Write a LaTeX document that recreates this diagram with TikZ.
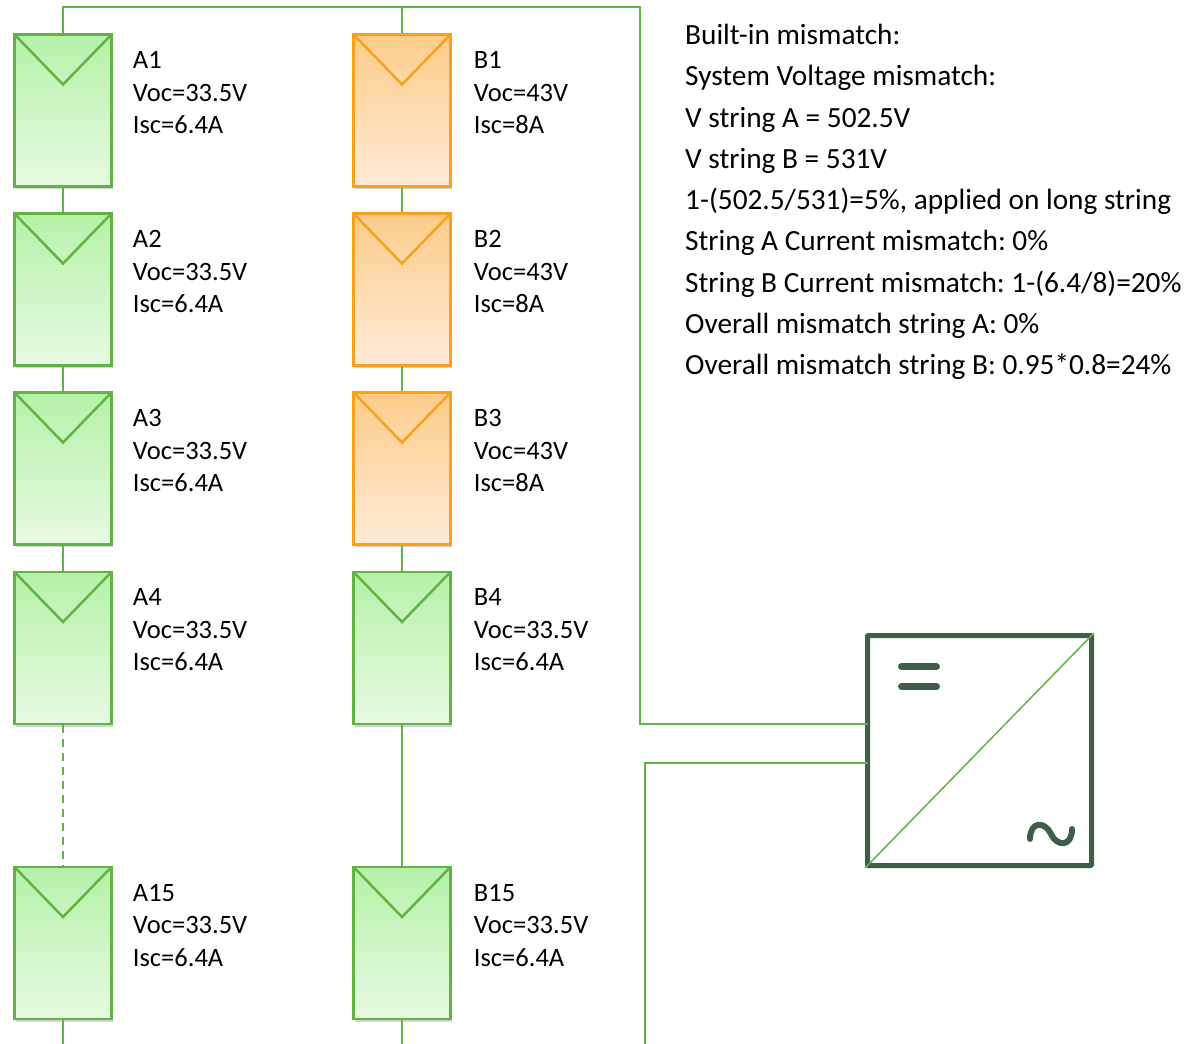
\documentclass[tikz,border=0pt]{standalone}
\usepackage{fontspec}
\setmainfont{Carlito}
\usetikzlibrary{positioning,shadows}
\frenchspacing

\definecolor{pvgreen}{HTML}{62B246}
\definecolor{pvgreentop}{HTML}{B4F1A6}
\definecolor{pvgreenbot}{HTML}{E8FAE3}
\definecolor{pvorange}{HTML}{F8A11E}
\definecolor{pvorangetop}{HTML}{FDCB88}
\definecolor{pvorangebot}{HTML}{FFEBD7}
\definecolor{invdark}{HTML}{3F5E48}

\tikzset{
  panel/.style={rectangle, draw=#1, line width=2.5pt, inner sep=0pt,
    minimum width=97pt, minimum height=152pt,
    top color=#1top, bottom color=#1bot,
    drop shadow={shadow xshift=1.5pt, shadow yshift=-2.5pt, opacity=0.35},
    path picture={
      \shade[top color=#1top, bottom color=#1bot!40!white]
        (path picture bounding box.north west) -- (path picture bounding box.north east)
        -- ([yshift=-50pt]path picture bounding box.north) -- cycle;
      \draw[#1, line width=2.5pt] (path picture bounding box.north west)
        -- ([yshift=-50pt]path picture bounding box.north) -- (path picture bounding box.north east);
    }},
  lbl/.style={inner sep=0pt, align=left, font=\fontsize{26.5}{32.5}\selectfont},
  notes/.style={inner sep=0pt, align=left, font=\fontsize{29.3}{41.25}\selectfont},
  wire/.style={draw=pvgreen, line width=1.8pt},
}

\begin{document}
\begin{tikzpicture}[x=1pt, y=-1pt]
    \useasboundingbox (0,0) rectangle (1189,1044);

    % String A
    \node[panel=pvgreen] (A1) at (63,110.5) {};
    \node[panel=pvgreen] (A2) at (63,289.5) {};
    \node[panel=pvgreen] (A3) at (63,468.5) {};
    \node[panel=pvgreen] (A4) at (63,648) {};
    \node[panel=pvgreen] (A15) at (63,943) {};

    % String B
    \node[panel=pvorange] (B1) at (402,110.5) {};
    \node[panel=pvorange] (B2) at (402,289.5) {};
    \node[panel=pvorange] (B3) at (402,468.5) {};
    \node[panel=pvgreen] (B4) at (402,648) {};
    \node[panel=pvgreen] (B15) at (402,943) {};

    % Module labels
    \node[lbl, below right=18pt and 20pt of A1.north east] (A1lbl) {A1\\Voc=33.5V\\Isc=6.4A};
    \node[lbl, below right=18pt and 20pt of A2.north east] (A2lbl) {A2\\Voc=33.5V\\Isc=6.4A};
    \node[lbl, below right=18pt and 20pt of A3.north east] (A3lbl) {A3\\Voc=33.5V\\Isc=6.4A};
    \node[lbl, below right=18pt and 20pt of A4.north east] (A4lbl) {A4\\Voc=33.5V\\Isc=6.4A};
    \node[lbl, below right=18pt and 20pt of A15.north east] (A15lbl) {A15\\Voc=33.5V\\Isc=6.4A};
    \node[lbl, below right=18pt and 22pt of B1.north east] (B1lbl) {B1\\Voc=43V\\Isc=8A};
    \node[lbl, below right=18pt and 22pt of B2.north east] (B2lbl) {B2\\Voc=43V\\Isc=8A};
    \node[lbl, below right=18pt and 22pt of B3.north east] (B3lbl) {B3\\Voc=43V\\Isc=8A};
    \node[lbl, below right=18pt and 22pt of B4.north east] (B4lbl) {B4\\Voc=33.5V\\Isc=6.4A};
    \node[lbl, below right=18pt and 22pt of B15.north east] (B15lbl) {B15\\Voc=33.5V\\Isc=6.4A};

    % Inverter
    \node[draw=invdark, line width=5pt, rounded corners=1pt, inner sep=0pt,
          minimum width=224pt, minimum height=230pt] (inv) at (979.5,750.5) {};
    \draw[pvgreen, line width=1.5pt] (inv.south west) -- (inv.north east);
    \draw[invdark, line width=7pt, line cap=round] (901.5,666.5) -- (936.5,666.5);
    \draw[invdark, line width=7pt, line cap=round] (901.5,686.5) -- (936.5,686.5);
    \draw[invdark, line width=6pt, line cap=round] (1030,839) .. controls (1030,821) and (1045,821) .. (1051,834)
        .. controls (1057,847) and (1072,847) .. (1072,829);

    % Wiring
    \coordinate (turn) at (640,7);
    \coordinate (dcp) at (867.5,724);
    \coordinate (dcm) at (867.5,763);
    \coordinate (outB) at (645,1044);
    \draw[wire] (A1.north) |- (turn) |- (dcp);
    \draw[wire] (B1.north) -- (B1.north |- turn);
    \draw[wire] (dcm) -| (outB);
    \draw[wire] (A1) -- (A2);
    \draw[wire] (A2) -- (A3);
    \draw[wire] (A3) -- (A4);
    \draw[wire, dash pattern=on 8pt off 6pt] (A4) -- (A15);
    \draw[wire] (B1) -- (B2);
    \draw[wire] (B2) -- (B3);
    \draw[wire] (B3) -- (B4);
    \draw[wire] (B4) -- (B15);
    \draw[wire] (A15.south) -- (A15.south |- outB);
    \draw[wire] (B15.south) -- (B15.south |- outB);

    % Mismatch notes
    \node[notes, anchor=north west] (mismatch) at (685,24) {Built-in mismatch:\\
        System Voltage mismatch:\\
        V string A = 502.5V\\
        V string B = 531V\\
        1-(502.5/531)=5\%, applied on long string\\
        String A Current mismatch: 0\%\\
        String B Current mismatch: 1-(6.4/8)=20\%\\
        Overall mismatch string A: 0\%\\
        Overall mismatch string B: 0.95*0.8=24\%};
\end{tikzpicture}
\end{document}
